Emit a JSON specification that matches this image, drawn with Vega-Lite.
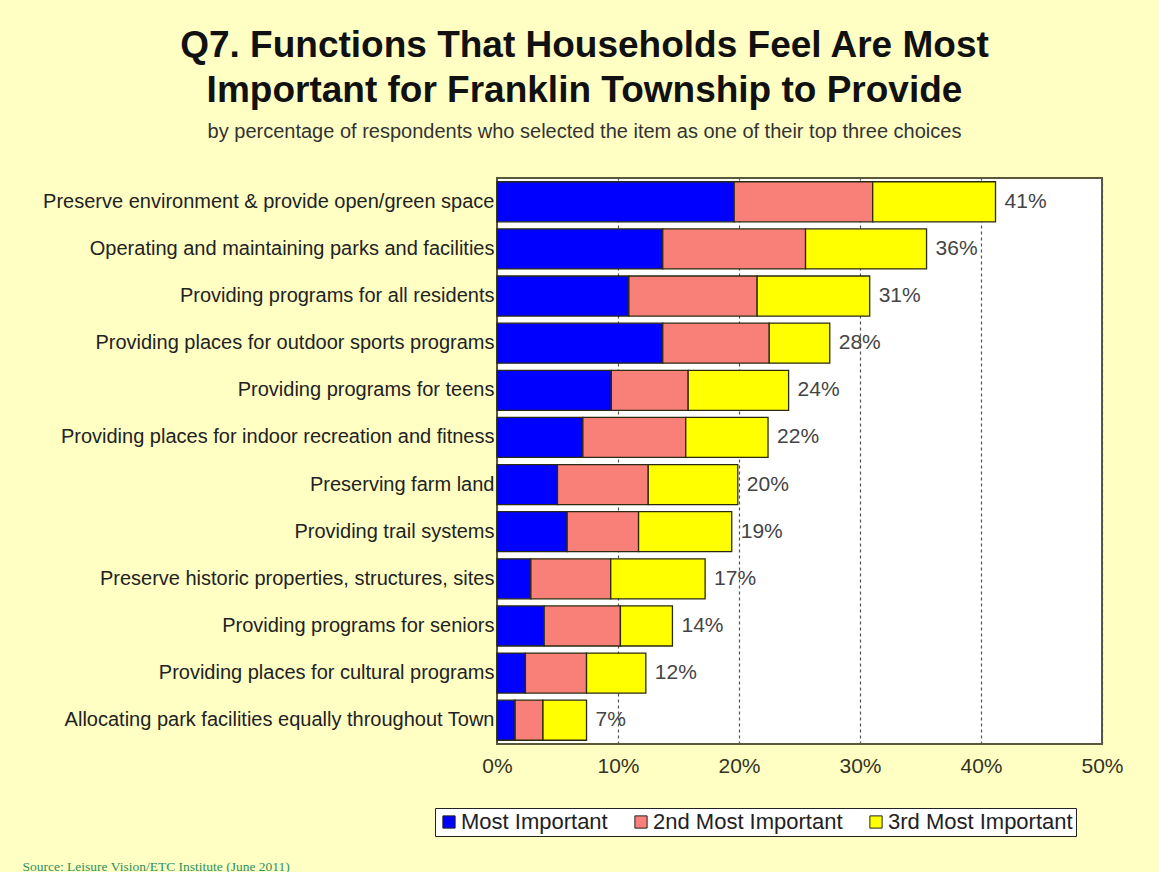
{
  "$schema": "https://vega.github.io/schema/vega-lite/v6.json",
  "autosize": {"type": "none"},
  "padding": {"left": 497, "top": 178, "right": 57, "bottom": 128},
  "width": 605,
  "height": 566,
  "background": "#FFFFC4",
  "title": {
    "text": ["Q7. Functions That Households Feel Are Most", "Important for Franklin Township to Provide"],
    "subtitle": "by percentage of respondents who selected the item as one of their top three choices",
    "anchor": "middle",
    "dx": -215,
    "offset": 35,
    "font": "Liberation Sans",
    "fontSize": 37,
    "fontWeight": "bold",
    "lineHeight": 45,
    "color": "#111111",
    "subtitleFont": "Liberation Sans",
    "subtitleFontSize": 20,
    "subtitleColor": "#333333",
    "subtitlePadding": 12
  },
  "config": {
    "view": {"fill": "white", "stroke": "#5a5a3a", "strokeWidth": 2},
    "axis": {"labelFont": "Liberation Sans", "titleFont": "Liberation Serif"}
  },
  "datasets": {
    "segments": [
      {"item": "Preserve environment & provide open/green space", "rank": "Most Important", "r": 1, "value": 19.6},
      {"item": "Preserve environment & provide open/green space", "rank": "2nd Most Important", "r": 2, "value": 11.45},
      {"item": "Preserve environment & provide open/green space", "rank": "3rd Most Important", "r": 3, "value": 10.15},
      {"item": "Operating and maintaining parks and facilities", "rank": "Most Important", "r": 1, "value": 13.7},
      {"item": "Operating and maintaining parks and facilities", "rank": "2nd Most Important", "r": 2, "value": 11.8},
      {"item": "Operating and maintaining parks and facilities", "rank": "3rd Most Important", "r": 3, "value": 10.0},
      {"item": "Providing programs for all residents", "rank": "Most Important", "r": 1, "value": 10.9},
      {"item": "Providing programs for all residents", "rank": "2nd Most Important", "r": 2, "value": 10.6},
      {"item": "Providing programs for all residents", "rank": "3rd Most Important", "r": 3, "value": 9.3},
      {"item": "Providing places for outdoor sports programs", "rank": "Most Important", "r": 1, "value": 13.7},
      {"item": "Providing places for outdoor sports programs", "rank": "2nd Most Important", "r": 2, "value": 8.8},
      {"item": "Providing places for outdoor sports programs", "rank": "3rd Most Important", "r": 3, "value": 5.0},
      {"item": "Providing programs for teens", "rank": "Most Important", "r": 1, "value": 9.45},
      {"item": "Providing programs for teens", "rank": "2nd Most Important", "r": 2, "value": 6.35},
      {"item": "Providing programs for teens", "rank": "3rd Most Important", "r": 3, "value": 8.3},
      {"item": "Providing places for indoor recreation and fitness", "rank": "Most Important", "r": 1, "value": 7.1},
      {"item": "Providing places for indoor recreation and fitness", "rank": "2nd Most Important", "r": 2, "value": 8.5},
      {"item": "Providing places for indoor recreation and fitness", "rank": "3rd Most Important", "r": 3, "value": 6.8},
      {"item": "Preserving farm land", "rank": "Most Important", "r": 1, "value": 5.0},
      {"item": "Preserving farm land", "rank": "2nd Most Important", "r": 2, "value": 7.5},
      {"item": "Preserving farm land", "rank": "3rd Most Important", "r": 3, "value": 7.4},
      {"item": "Providing trail systems", "rank": "Most Important", "r": 1, "value": 5.8},
      {"item": "Providing trail systems", "rank": "2nd Most Important", "r": 2, "value": 5.9},
      {"item": "Providing trail systems", "rank": "3rd Most Important", "r": 3, "value": 7.7},
      {"item": "Preserve historic properties, structures, sites", "rank": "Most Important", "r": 1, "value": 2.8},
      {"item": "Preserve historic properties, structures, sites", "rank": "2nd Most Important", "r": 2, "value": 6.6},
      {"item": "Preserve historic properties, structures, sites", "rank": "3rd Most Important", "r": 3, "value": 7.8},
      {"item": "Providing programs for seniors", "rank": "Most Important", "r": 1, "value": 3.9},
      {"item": "Providing programs for seniors", "rank": "2nd Most Important", "r": 2, "value": 6.3},
      {"item": "Providing programs for seniors", "rank": "3rd Most Important", "r": 3, "value": 4.3},
      {"item": "Providing places for cultural programs", "rank": "Most Important", "r": 1, "value": 2.35},
      {"item": "Providing places for cultural programs", "rank": "2nd Most Important", "r": 2, "value": 5.05},
      {"item": "Providing places for cultural programs", "rank": "3rd Most Important", "r": 3, "value": 4.9},
      {"item": "Allocating park facilities equally throughout Town", "rank": "Most Important", "r": 1, "value": 1.5},
      {"item": "Allocating park facilities equally throughout Town", "rank": "2nd Most Important", "r": 2, "value": 2.3},
      {"item": "Allocating park facilities equally throughout Town", "rank": "3rd Most Important", "r": 3, "value": 3.6}
    ],
    "totals": [
      {"item": "Preserve environment & provide open/green space", "total": 41.2, "label": "41%"},
      {"item": "Operating and maintaining parks and facilities", "total": 35.5, "label": "36%"},
      {"item": "Providing programs for all residents", "total": 30.8, "label": "31%"},
      {"item": "Providing places for outdoor sports programs", "total": 27.5, "label": "28%"},
      {"item": "Providing programs for teens", "total": 24.1, "label": "24%"},
      {"item": "Providing places for indoor recreation and fitness", "total": 22.4, "label": "22%"},
      {"item": "Preserving farm land", "total": 19.9, "label": "20%"},
      {"item": "Providing trail systems", "total": 19.4, "label": "19%"},
      {"item": "Preserve historic properties, structures, sites", "total": 17.2, "label": "17%"},
      {"item": "Providing programs for seniors", "total": 14.5, "label": "14%"},
      {"item": "Providing places for cultural programs", "total": 12.3, "label": "12%"},
      {"item": "Allocating park facilities equally throughout Town", "total": 7.4, "label": "7%"}
    ]
  },
  "layer": [
    {
      "data": {"name": "segments"},
      "mark": {"type": "bar", "stroke": "#2a2a10", "strokeWidth": 1.3},
      "encoding": {
        "y": {
          "field": "item",
          "type": "nominal",
          "sort": null,
          "scale": {"paddingInner": 0.15, "paddingOuter": 0.08},
          "axis": {
            "title": null,
            "labelFontSize": 20,
            "labelColor": "#222222",
            "labelPadding": 3,
            "labelLimit": 520,
            "ticks": false,
            "domain": false
          }
        },
        "x": {
          "field": "value",
          "type": "quantitative",
          "stack": "zero",
          "scale": {"domain": [0, 50], "nice": false},
          "axis": {
            "values": [0, 10, 20, 30, 40, 50],
            "labelExpr": "datum.value + '%'",
            "labelFontSize": 21,
            "labelColor": "#333322",
            "labelPadding": 11,
            "labelFlush": false,
            "labelOverlap": false,
            "ticks": false,
            "domain": false,
            "grid": true,
            "gridDash": [3, 3],
            "gridColor": "#555555",
            "gridWidth": 1.2,
            "title": "Source:  Leisure Vision/ETC Institute (June 2011)",
            "titleFont": "Liberation Serif",
            "titleFontSize": 13.5,
            "titleFontWeight": "normal",
            "titleColor": "#2f8f5f",
            "titleAnchor": "start",
            "titleAlign": "left",
            "titleBaseline": "top",
            "titleX": -475,
            "titleY": 115
          }
        },
        "color": {
          "field": "rank",
          "type": "nominal",
          "scale": {
            "domain": ["Most Important", "2nd Most Important", "3rd Most Important"],
            "range": ["#0000FF", "#F88078", "#FFFF00"]
          },
          "legend": {
            "title": null,
            "orient": "none",
            "direction": "horizontal",
            "legendX": -62,
            "legendY": 630,
            "symbolType": "square",
            "symbolSize": 150,
            "symbolStrokeColor": "#222222",
            "symbolStrokeWidth": 1,
            "labelFont": "Liberation Sans",
            "labelFontSize": 22,
            "labelLimit": 400,
            "labelColor": "#222222",
            "labelOffset": 1,
            "columnPadding": 22,
            "fillColor": "white",
            "strokeColor": "#222222",
            "padding": 3
          }
        },
        "order": {"field": "r", "type": "quantitative"}
      }
    },
    {
      "data": {"name": "totals"},
      "mark": {"type": "text", "align": "left", "baseline": "middle", "dx": 9, "font": "Liberation Sans", "fontSize": 21, "color": "#444444"},
      "encoding": {
        "y": {"field": "item", "type": "nominal", "sort": null},
        "x": {"field": "total", "type": "quantitative"},
        "text": {"field": "label"}
      }
    }
  ]
}
